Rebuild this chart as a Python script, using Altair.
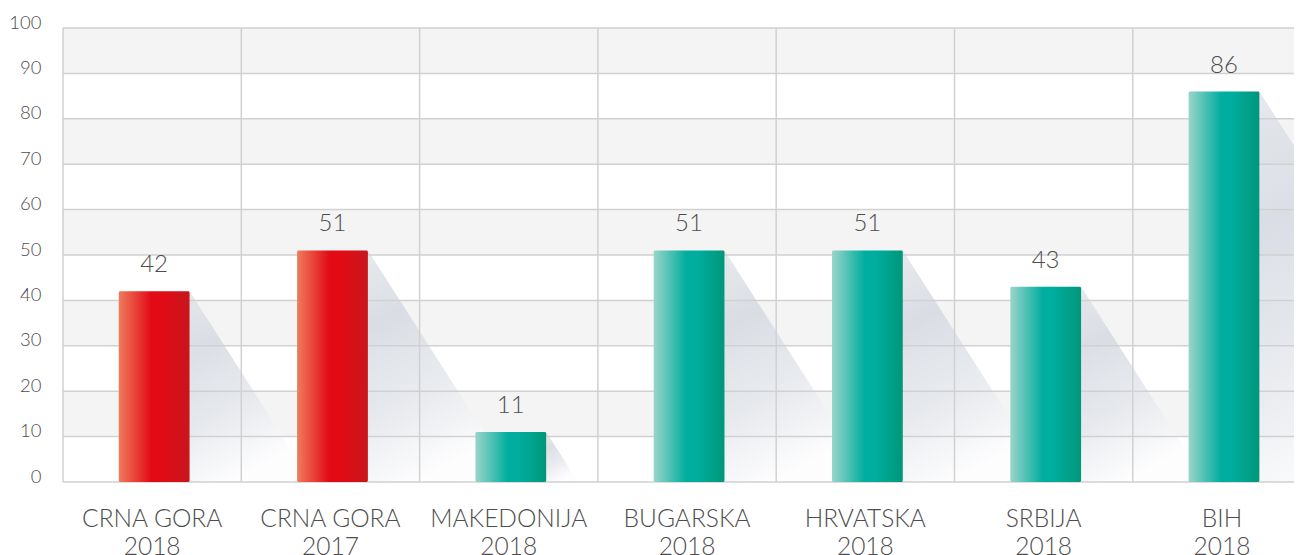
import altair as alt
import pandas as pd

# ---- data ----
line1 = ["CRNA GORA", "CRNA GORA", "MAKEDONIJA", "BUGARSKA", "HRVATSKA", "SRBIJA", "BIH"]
line2 = ["2018", "2017", "2018", "2018", "2018", "2018", "2018"]
values = [42, 51, 11, 51, 51, 43, 86]
groups = ["red", "red", "teal", "teal", "teal", "teal", "teal"]
y_ticks = list(range(0, 101, 10))
band_starts = [10, 30, 50, 70, 90]
col_edges = [0, 1, 2, 3, 4, 5, 6]

W = 1231
H = 454
XMAX = W / 178.3
FONT = "Lato"
TXT = "#4d4d4d"
GRID = "#d1d1d1"

df = pd.DataFrame({"idx": list(range(len(values))), "l1": line1, "l2": line2,
                   "value": values, "group": groups})

xs = alt.Scale(domain=[0, XMAX], nice=False, zero=False)
ys = alt.Scale(domain=[0, 100], nice=False)
yaxis = alt.Axis(values=y_ticks, grid=False, ticks=False, domain=False,
                 labelFont=FONT, labelFontSize=18.5, labelColor=TXT,
                 labelFontWeight=300, labelPadding=22,
                 labelBaseline="alphabetic", title=None)

# background alternating bands
bands = alt.Chart(pd.DataFrame({"lo": band_starts})).transform_calculate(
    hi="datum.lo + 10"
).mark_rect(color="#f4f4f4").encode(
    y=alt.Y("lo:Q", scale=ys, axis=yaxis, title=None),
    y2="hi:Q",
    x=alt.value(0),
    x2=alt.value(W),
)

# diagonal shadows (triangle from bar top-right corner down to the baseline)
shadow = alt.Chart(df).transform_calculate(
    sa="datum.idx + 0.71",
    sb="datum.idx + 0.71 + 0.0163 * datum.value",
).transform_fold(["sa", "sb"], as_=["k", "sx"]).transform_calculate(
    sy="datum.k == 'sa' ? datum.value : 0"
).mark_area(
    clip=True,
    color=alt.Gradient(
        gradient="linear", x1=0, y1=0, x2=0.35, y2=1,
        stops=[alt.GradientStop(color="#e0e3e8", offset=0),
               alt.GradientStop(color="#d3d7df", offset=0.3),
               alt.GradientStop(color="#e3e6eb", offset=0.65),
               alt.GradientStop(color="#fdfdfe", offset=1)],
    ),
    opacity=0.8,
).encode(
    x=alt.X("sx:Q", scale=xs, axis=None),
    y=alt.Y("sy:Q", scale=ys, axis=yaxis, title=None, stack=None),
    detail="idx:N",
)

# grid lines
hgrid = alt.Chart(pd.DataFrame({"t": y_ticks})).mark_rule(color=GRID, strokeWidth=1.5).encode(
    y=alt.Y("t:Q", scale=ys, axis=yaxis, title=None),
)
vgrid = alt.Chart(pd.DataFrame({"e": col_edges})).mark_rule(color=GRID, strokeWidth=1.5).encode(
    x=alt.X("e:Q", scale=xs, axis=None),
)


def bar_layer(grp, c_left, c_mid, c_right):
    return alt.Chart(df).transform_filter(
        alt.datum.group == grp
    ).transform_calculate(
        x0="datum.idx + 0.313", x1="datum.idx + 0.71"
    ).mark_rect(
        cornerRadius=1.5,
        color=alt.Gradient(
            gradient="linear", x1=0, y1=0, x2=1, y2=0,
            stops=[alt.GradientStop(color=c_left, offset=0),
                   alt.GradientStop(color=c_mid, offset=0.46),
                   alt.GradientStop(color=c_mid, offset=0.6),
                   alt.GradientStop(color=c_right, offset=1)],
        ),
    ).encode(
        x=alt.X("x0:Q", scale=xs, axis=None),
        x2="x1:Q",
        y=alt.Y("value:Q", scale=ys, axis=yaxis, title=None),
        y2=alt.datum(0),
    )


bars_red = bar_layer("red", "#ef7b5c", "#e20a15", "#c8161d")
bars_teal = bar_layer("teal", "#9bd4c9", "#00ae9f", "#00967a")

values_txt = alt.Chart(df).transform_calculate(xc="datum.idx + 0.511").mark_text(
    font=FONT, fontSize=24, fontWeight=300, color=TXT, baseline="alphabetic", dy=-19
).encode(
    x=alt.X("xc:Q", scale=xs, axis=None),
    y=alt.Y("value:Q", scale=ys, axis=yaxis, title=None),
    text="value:Q",
)

cat_txt = alt.Chart(df).transform_calculate(
    xc="datum.idx + 0.5", lab="datum.l1 + '\\n' + datum.l2"
).mark_text(
    font=FONT, fontSize=24.5, fontWeight=300, color=TXT, baseline="alphabetic",
    align="center", lineBreak="\n", lineHeight=28,
).encode(
    x=alt.X("xc:Q", scale=xs, axis=None),
    y=alt.value(499),
    text="lab:N",
)

chart = alt.layer(bands, shadow, hgrid, vgrid, bars_red, bars_teal, values_txt, cat_txt).properties(
    width=W, height=H,
    autosize=alt.AutoSizeParams(type="none"),
    padding={"left": 55, "top": 20, "right": 0, "bottom": 73},
).configure_view(stroke=None)

chart.save("out.html", embed_options={"renderer": "svg", "actions": False})
